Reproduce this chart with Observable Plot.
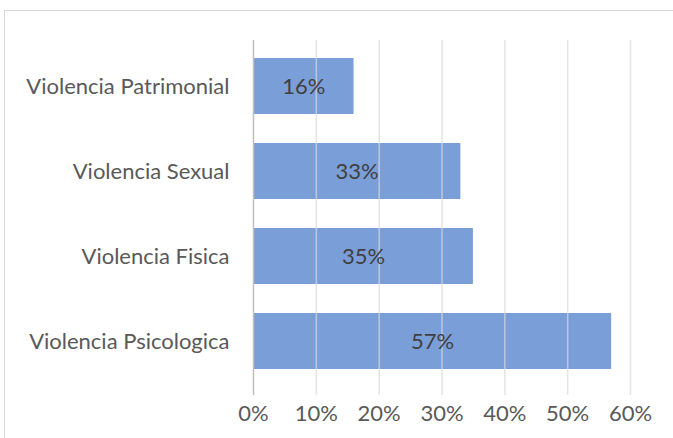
<!DOCTYPE html>
<html><head><meta charset="utf-8">
<script src="https://cdn.jsdelivr.net/npm/d3@7"></script>
<script src="https://cdn.jsdelivr.net/npm/@observablehq/plot@0.6"></script>
<style>
body{margin:0;background:#fff;}
#wrap{position:relative;width:673px;height:438px;overflow:hidden;}
#frame{position:absolute;left:4px;top:10px;width:720px;height:480px;border:1px solid #d9d9d9;}
#chart{position:absolute;left:0;top:0;}
</style>
</head><body>
<div id="wrap"><div id="frame"></div><div id="chart"></div></div>
<script>
const categories = ["Violencia Patrimonial", "Violencia Sexual", "Violencia Fisica", "Violencia Psicologica"];
const values = [0.16, 0.33, 0.35, 0.57];
const xTicks = [0, 0.1, 0.2, 0.3, 0.4, 0.5, 0.6];

const data = categories.map((c, i) => ({category: c, value: values[i]}));
const fmt = d3.format(".0%");

const chart = Plot.plot({
  width: 673,
  height: 438,
  marginLeft: 253,
  marginRight: 43,
  marginTop: 40,
  marginBottom: 43,
  style: {fontFamily: "Lato, sans-serif", fontSize: "22px", background: "transparent"},
  x: {domain: [0, 0.6], ticks: xTicks, tickFormat: fmt, label: null},
  y: {domain: categories, paddingInner: 0.345, paddingOuter: 0.25, align: 0.4, label: null},
  marks: [
    Plot.barX(data, {x: "value", y: "category", fill: "#7a9ed8"}),
    Plot.ruleX(xTicks.filter(d => d > 0), {stroke: "#d9d9d9", strokeWidth: 1.5, strokeOpacity: 0.7}),
    Plot.ruleX([0], {stroke: "#bfbfbf", strokeWidth: 1.5}),
    Plot.text(data, {x: d => d.value / 2, y: "category", text: d => fmt(d.value), fill: "#404040", fontSize: 22}),
    Plot.axisX({ticks: xTicks, tickFormat: fmt, tickSize: 0, tickPadding: 10, fill: "#595959", fontSize: 22, label: null}),
    Plot.axisY({tickSize: 0, tickPadding: 24, fill: "#595959", fontSize: 22, label: null})
  ]
});
document.getElementById("chart").appendChild(chart);
</script>
</body></html>
